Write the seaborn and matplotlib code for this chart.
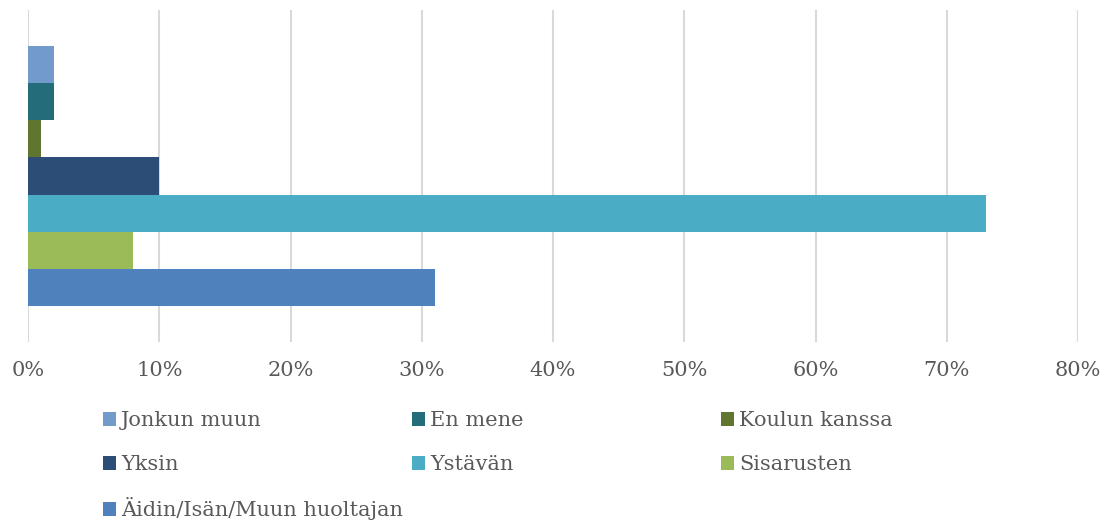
import pandas as pd
import seaborn as sns
import matplotlib.pyplot as plt
from matplotlib.patches import Patch
from matplotlib.ticker import PercentFormatter

# Sarjat (ylhäältä alas kuten kuvassa)
series = ['Jonkun muun', 'En mene', 'Koulun kanssa', 'Yksin',
          'Ystävän', 'Sisarusten', 'Äidin/Isän/Muun huoltajan']
values = [2, 2, 1, 10, 73, 8, 31]
colors = ['#729ACA', '#256C7A', '#5F7530', '#2C4D75',
          '#4BACC6', '#9BBB59', '#4F81BD']
xticks = [0, 10, 20, 30, 40, 50, 60, 70, 80]

df = pd.DataFrame({'Sarja': series, 'Osuus': values, 'Ryhmä': [''] * len(series)})

sns.set_style('white')
plt.rcParams['font.family'] = ['DejaVu Serif']
text_color = '#595959'
W, H = 1114, 523

fig = plt.figure(figsize=(W / 100, H / 100), dpi=100)
ax = fig.add_axes([28 / W, 1 - 342 / H, 1050 / W, 332 / H])

sns.barplot(data=df, x='Osuus', y='Ryhmä', hue='Sarja', hue_order=series,
            palette=colors, orient='h', width=0.786, saturation=1,
            linewidth=0, edgecolor='none', legend=False, ax=ax)

ax.set_xlim(0, 80)
ax.set_ylim(0.5, -0.5)
ax.set_xticks(xticks)
ax.xaxis.set_major_formatter(PercentFormatter(decimals=0))
ax.set_yticks([])
ax.set_xlabel('')
ax.set_ylabel('')
ax.grid(axis='x', color='#D9D9D9', linewidth=1.5)
ax.set_axisbelow(True)
for s in ax.spines.values():
    s.set_visible(False)
ax.tick_params(axis='x', length=0, pad=14, labelsize=15, labelcolor=text_color)

# Selite: kolme saraketta, täyttö riveittäin, jokainen merkintä omalle paikalleen
col_x = [103, 412, 721]
row_y = [421, 465, 509]
for i, (name, c) in enumerate(zip(series, colors)):
    r, k = divmod(i, 3)
    fig.legend([Patch(facecolor=c, edgecolor='none')], [name],
               loc='center left', bbox_to_anchor=(col_x[k] / W, 1 - row_y[r] / H),
               frameon=False, fontsize=15, labelcolor=text_color,
               borderpad=0, borderaxespad=0,
               handlelength=0.62, handleheight=0.62, handletextpad=0.25)

fig.savefig('out.png', dpi=100)
